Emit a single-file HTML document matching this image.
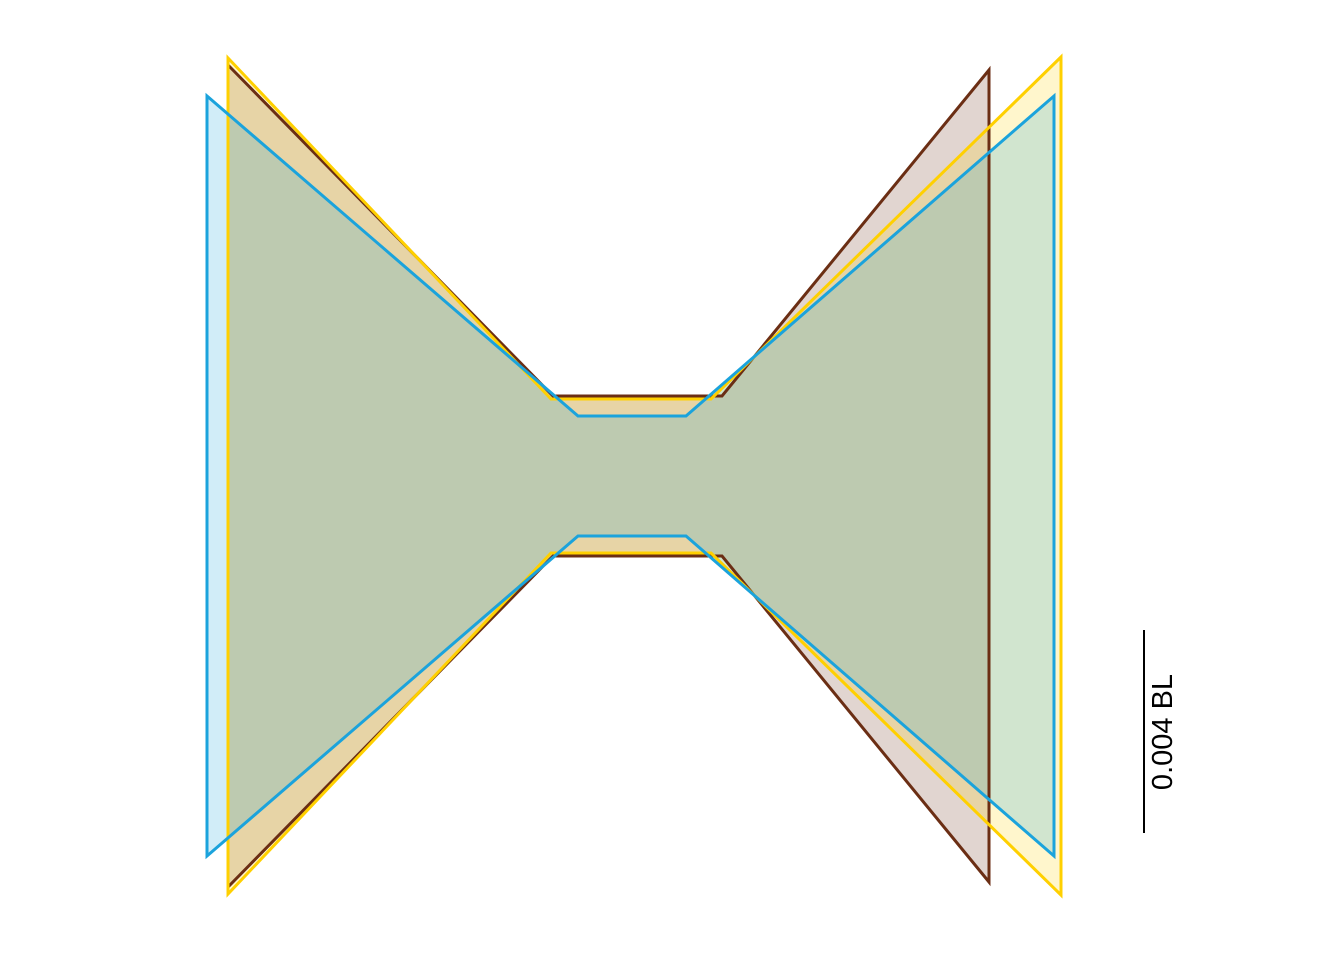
<!DOCTYPE html>
<html><head><meta charset="utf-8"><style>
body{margin:0;background:#fff}
svg{display:block}
</style></head><body>
<svg id="chart" width="1344" height="960" viewBox="0 0 1344 960" xmlns="http://www.w3.org/2000/svg">
<g id="shapes"></g>
<g>
<line x1="1144" y1="630" x2="1144" y2="833" stroke="#000" stroke-width="2"/>
<text x="1172" y="732" transform="rotate(-90 1172 732)" text-anchor="middle" font-family="Liberation Sans, sans-serif" font-size="29">0.004 BL</text>
</g>
</svg>
<script>
const seriesNames = ["brown", "yellow", "blue"];
const seriesColors = ["#6b2e14", "#ffd000", "#1ba3dc"];
const leftX = [228, 228, 207];
const leftTop = [65, 58, 96];
const leftBottom = [887, 894, 856];
const neckX1 = [553, 551, 578];
const neckX2 = [722, 711, 686];
const neckTop = [396, 399, 416];
const neckBottom = [556, 553, 536];
const rightX = [989, 1061, 1054];
const rightTop = [70, 57, 96];
const rightBottom = [882, 895, 856];

const NS = "http://www.w3.org/2000/svg";
const g = document.getElementById("shapes");
const pts = i => [
  [leftX[i], leftTop[i]], [neckX1[i], neckTop[i]], [neckX2[i], neckTop[i]],
  [rightX[i], rightTop[i]], [rightX[i], rightBottom[i]], [neckX2[i], neckBottom[i]],
  [neckX1[i], neckBottom[i]], [leftX[i], leftBottom[i]]
].map(p => p.join(",")).join(" ");
for (let i = 0; i < seriesNames.length; i++) {
  const p = document.createElementNS(NS, "polygon");
  p.setAttribute("points", pts(i));
  p.setAttribute("fill", seriesColors[i]);
  p.setAttribute("fill-opacity", "0.2");
  p.setAttribute("stroke", "none");
  
  
  g.appendChild(p);
}
for (let i = 0; i < seriesNames.length; i++) {
  const p = document.createElementNS(NS, "polygon");
  p.setAttribute("points", pts(i));
  p.setAttribute("fill", "none");
  p.setAttribute("stroke", seriesColors[i]);
  p.setAttribute("stroke-width", "3");
  p.setAttribute("stroke-linejoin", "miter");
  
  
  g.appendChild(p);
}
</script>
</body></html>
